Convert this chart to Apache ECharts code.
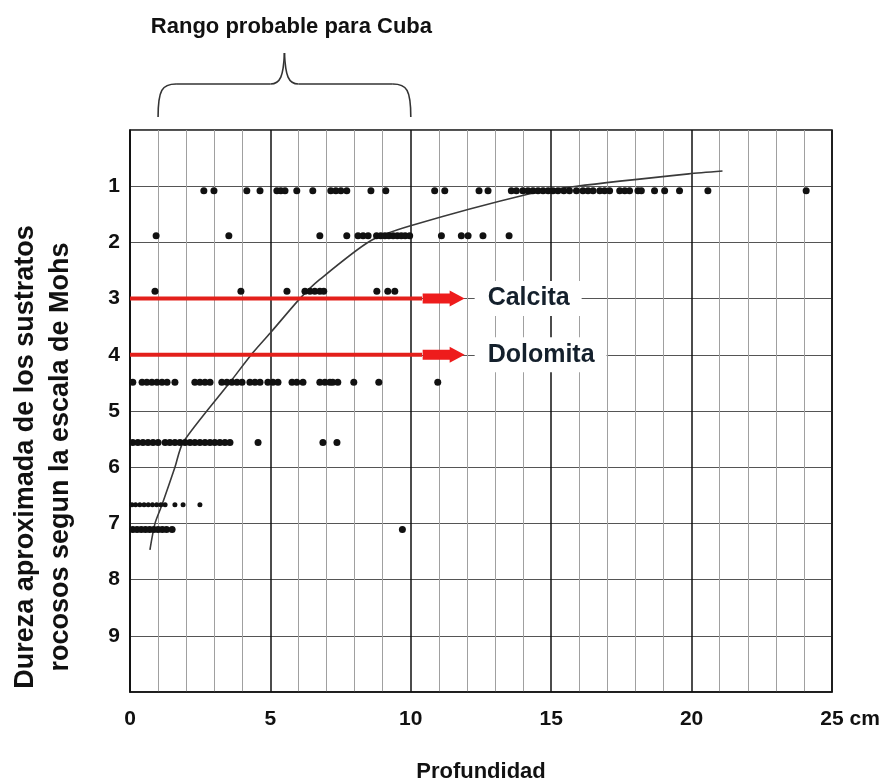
<!DOCTYPE html>
<html>
<head>
<meta charset="utf-8">
<script src="https://cdn.jsdelivr.net/npm/echarts@6/dist/echarts.min.js"></script>
<style>
  html, body { margin: 0; padding: 0; background: #fff; }
  #grafico { width: 890px; height: 784px; }
</style>
</head>
<body>
<div id="grafico"></div>
<script>
  // dureza (escala de Mohs) de cada fila de puntos
  const durezaFilas = [1.08, 1.88, 2.87, 4.49, 5.56, 6.67, 7.11]
  // profundidad (cm) de los puntos de cada fila
  const profFila1 = [2.63, 2.99, 4.16, 4.63, 5.23, 5.37, 5.52, 5.94, 6.51, 7.15, 7.33, 7.51, 7.72, 8.58, 9.11,
    10.85, 11.21, 12.43, 12.75, 13.58, 13.76, 13.99, 14.17, 14.35, 14.53, 14.71, 14.89, 15.06, 15.24, 15.45,
    15.65, 15.9, 16.13, 16.31, 16.49, 16.73, 16.9, 17.08, 17.44, 17.62, 17.79, 18.09, 18.21, 18.68, 19.04,
    19.57, 20.58, 24.08]
  const profFila2 = [0.93, 3.52, 6.76, 7.72, 8.12, 8.3, 8.48, 8.78, 8.93, 9.08, 9.22, 9.37, 9.52, 9.66, 9.8,
    9.96, 11.09, 11.8, 12.04, 12.57, 13.5]
  const profFila3 = [0.89, 3.95, 5.59, 6.23, 6.41, 6.58, 6.76, 6.9, 8.79, 9.18, 9.43]
  const profFila4 = [0.1, 0.43, 0.6, 0.78, 0.96, 1.14, 1.32, 1.6, 2.31, 2.49, 2.67, 2.85, 3.27, 3.45, 3.63,
    3.81, 3.99, 4.27, 4.45, 4.63, 4.91, 5.09, 5.27, 5.77, 5.94, 6.16, 6.76, 6.94, 7.12, 7.22, 7.4, 7.97,
    8.86, 10.96]
  const profFila5 = [0.1, 0.28, 0.46, 0.64, 0.82, 1.0, 1.25, 1.42, 1.6, 1.78, 1.96, 2.14, 2.31, 2.49, 2.67,
    2.85, 3.02, 3.2, 3.38, 3.56, 4.56, 6.87, 7.37]
  const profFila6 = [0.07, 0.2, 0.35, 0.5, 0.65, 0.8, 0.95, 1.1, 1.25, 1.6, 1.89, 2.49]
  const profFila7 = [0.1, 0.25, 0.4, 0.55, 0.7, 0.85, 1.0, 1.15, 1.3, 1.5, 9.7]

  // curva de tendencia
  const curvaProf = [0.71, 0.89, 1.14, 1.6, 1.89, 3.56, 4.38, 5.05, 6.05, 6.76, 8.54, 9.96, 14.2, 15.9, 19.9, 21.1]
  const curvaDureza = [7.47, 7.0, 6.67, 6.0, 5.56, 4.49, 3.96, 3.58, 3.0, 2.66, 1.98, 1.71, 1.14, 1.0, 0.78, 0.73]

  // flechas de minerales
  const minerales = ['Calcita', 'Dolomita']
  const durezaMinerales = [3, 4]
  const flechaFin = 10.4
  const flechaPunta = 11.17

  const rangoCuba = [1, 10]
  const ticksProf = [0, 5, 10, 15, 20, 25]

  const fuente = "'Liberation Sans', Arial, sans-serif"
  const filas = [profFila1, profFila2, profFila3, profFila4, profFila5, profFila6, profFila7]

  let chart = echarts.init(document.getElementById('grafico'))

  let series = []
  filas.forEach((fila, i) => {
    series.push({
      type: 'scatter',
      symbol: 'circle',
      symbolSize: i === 5 ? 5 : 7,
      itemStyle: { color: '#111', opacity: 1 },
      data: fila.map(p => [p, durezaFilas[i]]),
      z: 4
    })
  })
  series.push({
    type: 'line',
    smooth: 0.25,
    showSymbol: false,
    lineStyle: { color: '#3a3a3a', width: 1.6 },
    data: curvaProf.map((p, i) => [p, curvaDureza[i]]),
    z: 3
  })
  minerales.forEach((m, i) => {
    series.push({
      type: 'line',
      showSymbol: false,
      lineStyle: { color: '#e3201b', width: 4 },
      data: [[0, durezaMinerales[i]], [flechaFin, durezaMinerales[i]]],
      z: 5
    })
  })
  series.push({
    type: 'scatter',
    symbol: 'path://M0,3L27,3L27,0L42,8L27,16L27,13L0,13Z',
    symbolSize: [42, 16],
    itemStyle: { color: '#ee1c1c', opacity: 1 },
    label: {
      show: true,
      position: 'right',
      distance: 10,
      formatter: '{b}',
      fontFamily: fuente,
      fontSize: 25,
      fontWeight: 'bold',
      color: '#14202c',
      opacity: 1,
      backgroundColor: '#fff',
      padding: [5, 12, 5, 13]
    },
    data: minerales.map((m, i) => ({ name: m, value: [flechaPunta, durezaMinerales[i]] })),
    z: 6
  })

  let options = {
    animation: false,
    grid: {
      show: true,
      left: 130,
      right: 58,
      top: 130,
      bottom: 92,
      borderColor: '#111',
      borderWidth: 1.5
    },
    xAxis: {
      type: 'value',
      min: 0,
      max: 25,
      interval: 5,
      name: 'cm',
      nameLocation: 'end',
      nameGap: 11,
      nameTextStyle: {
        fontFamily: fuente, fontSize: 21, fontWeight: 'bold', color: '#111',
        verticalAlign: 'top', padding: [17, 0, 0, 0]
      },
      axisLine: { show: true, onZero: false, lineStyle: { color: '#111', width: 1.5 } },
      axisTick: { show: false },
      axisLabel: {
        fontFamily: fuente, fontSize: 21, fontWeight: 'bold', color: '#111', margin: 17,
        formatter: v => ticksProf.includes(v) ? String(v) : ''
      },
      splitLine: { show: true, lineStyle: { color: '#111', width: 1.5 } },
      minorTick: { show: false, splitNumber: 5 },
      minorSplitLine: { show: true, lineStyle: { color: '#a0a0a0', width: 1 } }
    },
    yAxis: {
      type: 'value',
      inverse: true,
      min: 0,
      max: 10,
      interval: 1,
      axisLine: { show: true, onZero: false, lineStyle: { color: '#111', width: 1.5 } },
      axisTick: { show: false },
      axisLabel: {
        fontFamily: fuente, fontSize: 21, fontWeight: 'bold', color: '#111', margin: 10,
        formatter: v => (v > 0 && v < 10) ? String(v) : ''
      },
      splitLine: { show: true, lineStyle: { color: '#555', width: 1 } }
    },
    series: series
  }
  chart.setOption(options)

  // llave del rango probable y textos sueltos
  let pa = chart.convertToPixel({ gridIndex: 0 }, [rangoCuba[0], 0])
  let pb = chart.convertToPixel({ gridIndex: 0 }, [rangoCuba[1], 0])
  let x1 = pa[0], x2 = pb[0], arriba = pa[1]
  let xm = (x1 + x2) / 2
  let yb = arriba - 13, yh = arriba - 46, yp = arriba - 77
  let trazo = { stroke: '#333', lineWidth: 1.6, fill: null }

  chart.setOption({
    graphic: [
      { type: 'bezierCurve', shape: { x1: x1, y1: yb, cpx1: x1, cpy1: yh + 6, cpx2: x1 + 4, cpy2: yh, x2: x1 + 18, y2: yh }, style: trazo },
      { type: 'line', shape: { x1: x1 + 18, y1: yh, x2: xm - 14, y2: yh }, style: trazo },
      { type: 'bezierCurve', shape: { x1: xm - 14, y1: yh, cpx1: xm - 4, cpy1: yh, cpx2: xm - 1, cpy2: yh - 8, x2: xm, y2: yp }, style: trazo },
      { type: 'bezierCurve', shape: { x1: xm, y1: yp, cpx1: xm + 1, cpy1: yh - 8, cpx2: xm + 4, cpy2: yh, x2: xm + 14, y2: yh }, style: trazo },
      { type: 'line', shape: { x1: xm + 14, y1: yh, x2: x2 - 18, y2: yh }, style: trazo },
      { type: 'bezierCurve', shape: { x1: x2 - 18, y1: yh, cpx1: x2 - 4, cpy1: yh, cpx2: x2, cpy2: yh + 6, x2: x2, y2: yb }, style: trazo },
      {
        type: 'text', x: xm + 7, y: 27,
        style: { text: 'Rango probable para Cuba', font: "bold 22px 'Liberation Sans', Arial, sans-serif", fill: '#111', align: 'center', verticalAlign: 'middle' }
      },
      {
        type: 'text', x: 481, y: 772,
        style: { text: 'Profundidad', font: "bold 22px 'Liberation Sans', Arial, sans-serif", fill: '#111', align: 'center', verticalAlign: 'middle' }
      },
      {
        type: 'text', x: 26, y: 457, rotation: Math.PI / 2,
        style: { text: 'Dureza aproximada de los sustratos', font: "bold 27px 'Liberation Sans', Arial, sans-serif", fill: '#111', align: 'center', verticalAlign: 'middle' }
      },
      {
        type: 'text', x: 61, y: 457, rotation: Math.PI / 2,
        style: { text: 'rocosos segun la escala de Mohs', font: "bold 27px 'Liberation Sans', Arial, sans-serif", fill: '#111', align: 'center', verticalAlign: 'middle' }
      }
    ]
  })

  window.addEventListener('resize', function () {
    setTimeout(() => { chart.resize() }, 100)
  })
</script>
</body>
</html>
